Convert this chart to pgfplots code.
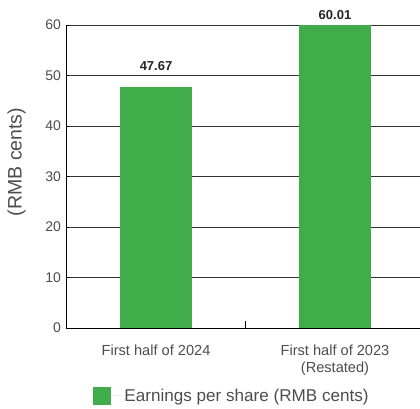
\documentclass[border=0pt]{standalone}
\usepackage{pgfplots}
\pgfplotsset{compat=1.18}
\usepackage{fontspec}
\setmainfont{Liberation Sans}
\definecolor{barg}{RGB}{65,173,74}
\definecolor{txt}{RGB}{77,77,77}
\begin{document}
\begin{tikzpicture}
\begin{axis}[
 at={(0,0)}, anchor=south west,
 scale only axis, width=354pt, height=303pt,
 xmin=-0.503, xmax=1.475, ymin=0, ymax=60,
 axis x line=bottom, axis y line=left,
 axis line style={-, black, line width=0.9pt},
 clip=false,
 tick align=inside,
 ytick={0,10,...,60},
 y tick style={black, line width=0.9pt},
 major tick length=3pt,
 yticklabel style={font=\fontsize{14}{16}\selectfont, text=txt, xshift=-1.5pt},
 /pgf/number format/assume math mode=true,
 ymajorgrids, grid style={black!80, line width=0.9pt},
 xtick={0,1},
 xticklabels={First half of 2024, {First half of 2023\\(Restated)}},
 xticklabel style={align=center, font=\fontsize{14.6}{17}\selectfont, text=txt, yshift=-13pt},
 x tick style={draw=none},
 extra x ticks={0.5}, extra x tick labels={},
 extra x tick style={grid=none, major tick length=7pt, x tick style={draw=black, line width=0.9pt}},
 ylabel={(RMB cents)},
 ylabel style={at={(axis description cs:-0.1398,0.548)}, anchor=center, font=\fontsize{19.5}{22}\selectfont, text=txt},
 legend style={at={(axis description cs:0.469,-0.224)}, anchor=center, draw=none, fill=none, font=\fontsize{17.1}{19}\selectfont, text=txt},
 legend image code/.code={\fill[barg] (0pt,-9pt) rectangle (18pt,9pt); \path (0pt,0pt) -- (29pt,0pt);},
]
\addplot[ybar, bar width=72pt, bar shift=0pt, fill=barg, draw=none,
  nodes near coords, nodes near coords style={font=\bfseries\fontsize{13}{15}\selectfont, text=black!85, yshift=12.7pt}]
  coordinates {(0,47.67)};
\addlegendentry{Earnings per share (RMB cents)}
\addplot[ybar, bar width=72pt, bar shift=0pt, fill=barg, draw=none, forget plot,
  nodes near coords, nodes near coords style={font=\bfseries\fontsize{13}{15}\selectfont, text=black!85, yshift=1.4pt}]
  coordinates {(1,60.01)};
\end{axis}
\pgfresetboundingbox
\path[use as bounding box] (-66pt,-81pt) rectangle (354pt,328pt);
\end{tikzpicture}
\end{document}
